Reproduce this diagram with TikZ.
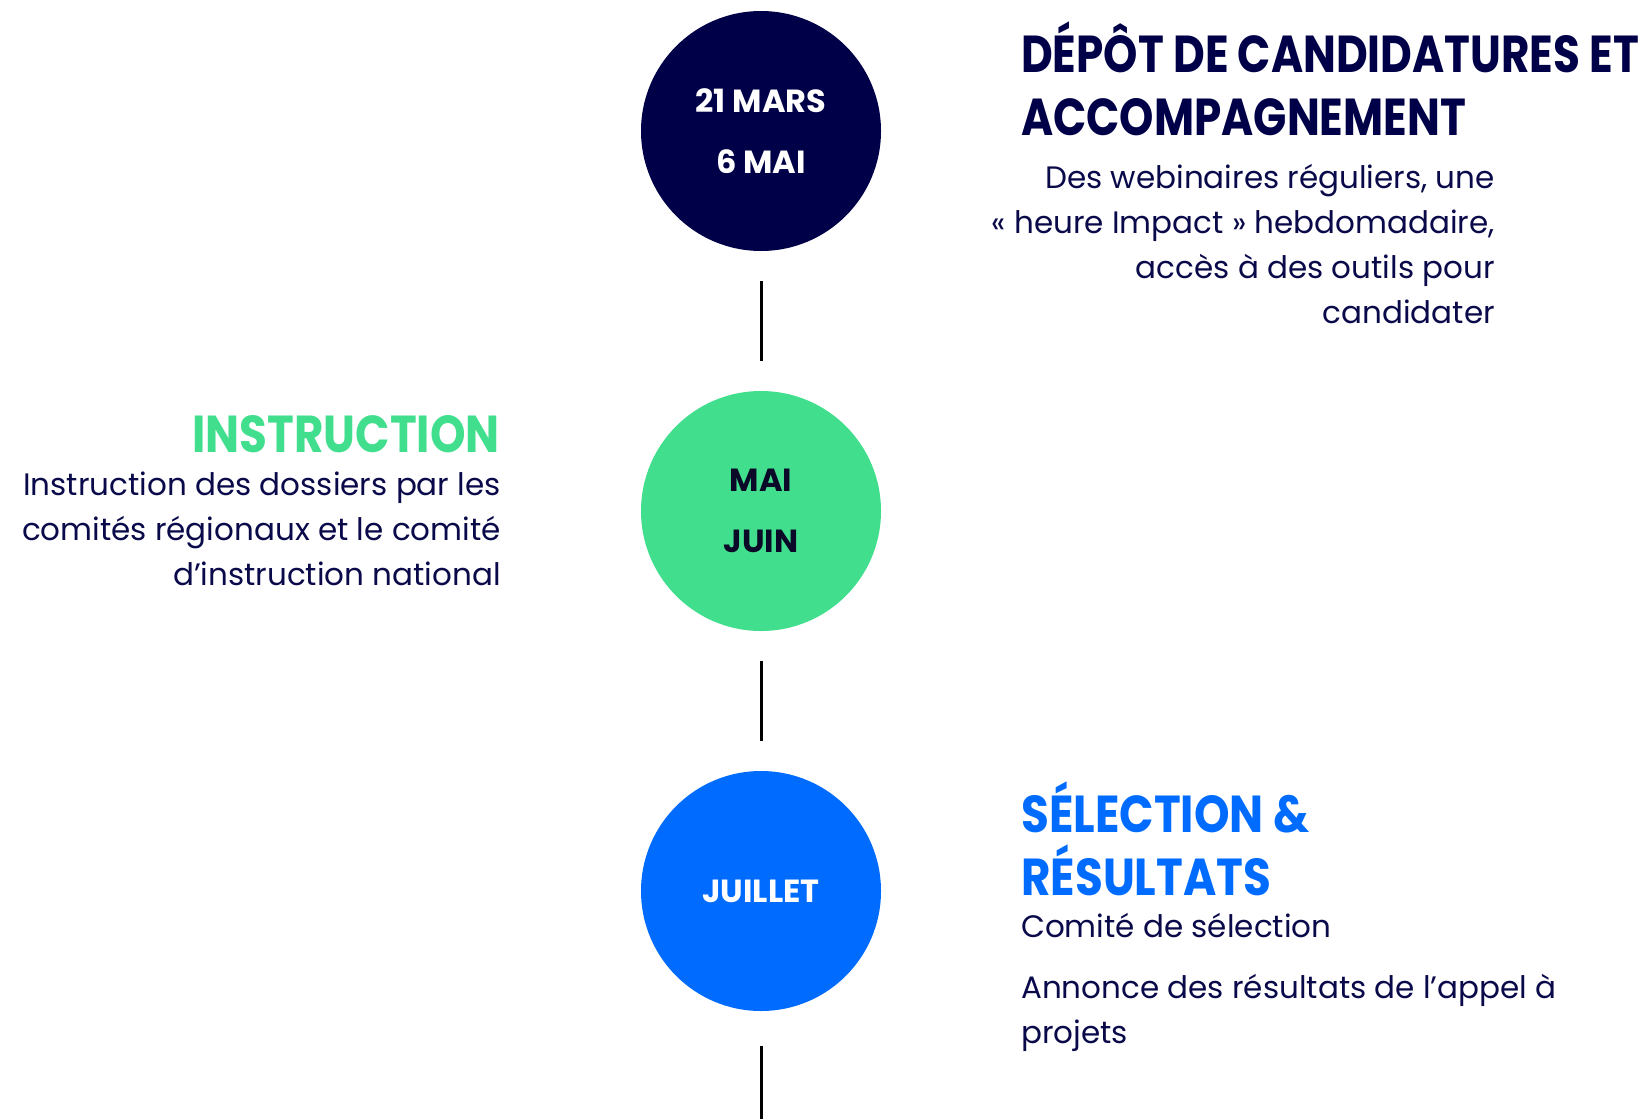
\documentclass[tikz,border=0pt]{standalone}
\usepackage{fontspec}
\setmainfont{Poppins}
\usepackage{graphicx}
\usetikzlibrary{positioning}
\definecolor{navy}{RGB}{0, 0, 72}
\definecolor{ink}{RGB}{10, 10, 75}
\definecolor{mint}{RGB}{65, 223, 141}
\definecolor{azure}{RGB}{0, 108, 255}
\newcommand{\narrow}[2][0.87]{\scalebox{#1}[1]{#2}}

\begin{document}
\begin{tikzpicture}[x=1pt, y=-1pt,
  stage/.style={circle, minimum size=240pt, inner sep=0pt, align=center,
    font=\fontsize{32}{61}\selectfont\bfseries},
  title/.style={inner sep=0pt, align=left, font=\fontsize{52}{63}\selectfont\bfseries},
  blurb/.style={inner sep=0pt, text=ink, font=\fontsize{31}{45}\selectfont},
  link/.style={line width=3pt, shorten <=30pt, shorten >=30pt}]
  \useasboundingbox (0, 0) rectangle (1652, 1119);

  % the three stages
  \node[stage, fill=navy, text=white] (mars) at (761, 131) {21 MARS\\6 MAI};
  \node[stage, fill=mint, text={rgb,255:red,10;green,10;blue,40}] (mai) at (761, 511) {MAI\\JUIN};
  \node[stage, fill=azure, text=white] (juillet) at (761, 891) {JUILLET};
  \coordinate (tail) at (761, 1119);

  \draw[link] (mars) -- (mai);
  \draw[link] (mai) -- (juillet);
  \draw[link, shorten <=35pt, shorten >=0pt] (juillet) -- (tail);

  % texts (base = last line)
  \node[title, text=navy, anchor=base west] (depot) at (1021, 135)
    {\narrow[0.84]{DÉPÔT DE CANDIDATURES ET}\\\narrow[0.84]{ACCOMPAGNEMENT}};
  \node[blurb, align=right, anchor=base east] (webinaires) at (1495, 323)
    {Des webinaires réguliers, une\\« heure Impact » hebdomadaire,\\accès à des outils pour\\candidater};

  \node[title, text=mint, anchor=base east] (instruction) at (500, 452) {\narrow{INSTRUCTION}};
  \node[blurb, align=right, anchor=base east] (dossiers) at (501, 585)
    {Instruction des dossiers par les\\comités régionaux et le comité\\d’instruction national};

  \node[title, text=azure, anchor=base west] (selection) at (1021, 895)
    {\narrow{SÉLECTION \&}\\\narrow{RÉSULTATS}};
  \node[blurb, anchor=base west] (comite) at (1021, 937) {Comité de sélection};
  \node[blurb, align=left, anchor=base west] (annonce) at (1021, 1043)
    {Annonce des résultats de l’appel à\\projets};
\end{tikzpicture}
\end{document}
